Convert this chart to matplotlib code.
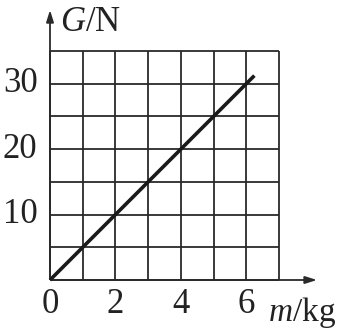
import matplotlib
matplotlib.use("Agg")
import matplotlib.pyplot as plt

plt.rcParams['font.family'] = ['Liberation Serif', 'DejaVu Serif']
plt.rcParams['mathtext.fontset'] = 'custom'
plt.rcParams['mathtext.rm'] = 'Liberation Serif'
plt.rcParams['mathtext.it'] = 'Liberation Serif:italic'

# data
m_line = [0, 6.25]
G_line = [0, 31.25]
x_ticks = [0, 2, 4, 6]
y_ticks = [10, 20, 30]
grid_x = [0, 1, 2, 3, 4, 5, 6, 7]
grid_y = [0, 5, 10, 15, 20, 25, 30, 35]

px = 32.7  # pixels per grid cell
fig = plt.figure(figsize=(3.44, 3.28), dpi=100)
ax = fig.add_axes([0, 0, 1, 1])
ax.set_xlim(-50 / px, (344 - 50) / px)
ax.set_ylim(-(328 - 280) / px * 5, 280 / px * 5)
ax.axis('off')

lc = '#2a2a2a'
ax.vlines(grid_x, 0, 35, color=lc, lw=1.3)
ax.hlines(grid_y, 0, 7, color=lc, lw=1.3)

# axes arrows
ax.annotate('', xy=(0, 41.7), xytext=(0, 0),
            arrowprops=dict(arrowstyle='-|>,head_length=0.7,head_width=0.22', color=lc, lw=1.3))
ax.annotate('', xy=(8.25, 0), xytext=(0, 0),
            arrowprops=dict(arrowstyle='-|>,head_length=0.7,head_width=0.22', color=lc, lw=1.3))

ax.plot(m_line, G_line, color='#1a1a1a', lw=2.6, solid_capstyle='butt')

for t in x_ticks:
    ax.text(t, -1.2, str(t), ha='center', va='top', fontsize=25, color='#222222')
for t in y_ticks:
    ax.text(-0.38, t, str(t), ha='right', va='center', fontsize=25, color='#222222')

ax.text(0.3, 38.0, r'$G/\mathrm{N}$', ha='left', va='baseline', fontsize=25, color='#222222')
ax.text(6.68, -6.2, r'$m/\mathrm{kg}$', ha='left', va='baseline', fontsize=24, color='#222222')

fig.savefig('out.png', dpi=100)
